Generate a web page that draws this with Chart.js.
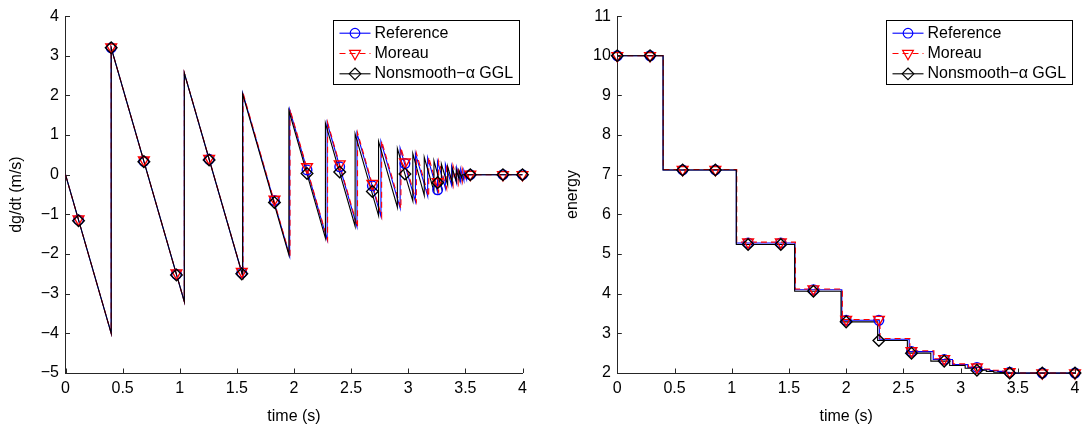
<!DOCTYPE html>
<html>
<head>
<meta charset="utf-8">
<title>Bouncing ball: velocity and energy</title>
<script src="https://cdn.jsdelivr.net/npm/chart.js@4.4.1/dist/chart.umd.min.js"></script>
<style>
  body { margin: 0; background: #fff; }
  #wrap { position: relative; width: 1091px; height: 430px; }
  canvas { position: absolute; top: 0; }
  #velChart { left: 0; }
  #energyChart { left: 545px; }
</style>
</head>
<body>
<div id="wrap">
  <canvas id="velChart" width="545" height="430"></canvas>
  <canvas id="energyChart" width="546" height="430"></canvas>
</div>
<script>
// ====== DATOS ======
const seriesNames = ["Reference", "Moreau", "Nonsmooth\u2212\u03b1 GGL"];

// velocidad: vertices del diente de sierra
const refT = [0, 0.4, 0.4, 1.04, 1.04, 1.552, 1.552, 1.962, 1.962, 2.29, 2.29, 2.551, 2.551, 2.761, 2.761, 2.929, 2.929, 3.063, 3.063, 3.17, 3.17, 3.256, 3.256, 3.325, 3.325, 3.38, 3.38, 3.424, 3.424, 3.459, 3.459, 3.487, 3.487, 3.51, 3.51, 4.0];
const refV = [0, -4, 3.2, -3.2, 2.56, -2.56, 2.05, -2.05, 1.64, -1.64, 1.31, -1.31, 1.05, -1.05, 0.84, -0.84, 0.67, -0.67, 0.54, -0.54, 0.43, -0.43, 0.34, -0.34, 0.27, -0.27, 0.22, -0.22, 0.18, -0.18, 0.14, -0.14, 0.11, -0.11, 0, 0];

const morT = [0, 0.4, 0.4, 1.04, 1.04, 1.554, 1.554, 1.965, 1.965, 2.294, 2.294, 2.556, 2.556, 2.767, 2.767, 2.936, 2.936, 3.071, 3.071, 3.179, 3.179, 3.266, 3.266, 3.336, 3.336, 3.392, 3.392, 3.437, 3.437, 3.473, 3.473, 3.502, 3.502, 3.526, 3.526, 4.0];
const morV = [0, -4, 3.2, -3.2, 2.57, -2.57, 2.06, -2.06, 1.65, -1.65, 1.32, -1.32, 1.06, -1.06, 0.85, -0.85, 0.68, -0.68, 0.55, -0.55, 0.44, -0.44, 0.35, -0.35, 0.28, -0.28, 0.23, -0.23, 0.18, -0.18, 0.15, -0.15, 0.12, -0.12, 0, 0];

const gglT = [0, 0.4, 0.4, 1.04, 1.04, 1.55, 1.55, 1.955, 1.955, 2.275, 2.275, 2.535, 2.535, 2.74, 2.74, 2.905, 2.905, 3.04, 3.04, 3.14, 3.14, 3.225, 3.225, 3.29, 3.29, 3.345, 3.345, 3.385, 3.385, 3.42, 3.42, 3.445, 3.445, 3.47, 3.47, 4.0];
const gglV = [0, -4, 3.2, -3.2, 2.56, -2.54, 2.04, -2.02, 1.62, -1.6, 1.3, -1.3, 1.03, -1.03, 0.84, -0.82, 0.66, -0.66, 0.53, -0.52, 0.44, -0.42, 0.35, -0.33, 0.27, -0.26, 0.21, -0.2, 0.16, -0.16, 0.13, -0.12, 0.1, -0.1, 0, 0];

// marcadores de la velocidad
const velMarkT = [0.114, 0.4, 0.686, 0.971, 1.257, 1.543, 1.829, 2.114, 2.4, 2.686, 2.971, 3.257, 3.543, 3.829, 4.0];
const refMarkV = [-1.14, 3.2, 0.34, -2.51, 0.39, -2.47, -0.65, 0.12, 0.2, -0.28, 0.28, -0.38, 0, 0, 0];
const morMarkV = [-1.12, 3.22, 0.37, -2.48, 0.41, -2.44, -0.62, 0.2, 0.27, -0.22, 0.32, -0.18, 0.01, 0, 0];
const gglMarkV = [-1.16, 3.2, 0.33, -2.53, 0.37, -2.5, -0.7, 0.03, 0.07, -0.42, 0.02, -0.2, 0, 0, 0];

// energia: instante del rebote y nuevo nivel (escalones)
const refET = [0, 0.4, 1.04, 1.552, 1.962, 2.29, 2.551, 2.761, 2.929, 3.063, 3.17, 3.256, 3.325, 3.38, 3.424, 4.0];
const refE  = [10, 7.12, 5.28, 4.1, 3.33, 2.85, 2.54, 2.34, 2.21, 2.14, 2.09, 2.06, 2.04, 2.02, 2.0, 2.0];
const morET = [0, 0.402, 1.044, 1.557, 1.967, 2.296, 2.557, 2.767, 2.935, 3.069, 3.176, 3.262, 3.33, 3.385, 3.43, 4.0];
const morE  = [10, 7.13, 5.3, 4.12, 3.35, 2.87, 2.56, 2.36, 2.23, 2.15, 2.1, 2.07, 2.05, 2.03, 2.0, 2.0];
const gglET = [0, 0.4, 1.04, 1.55, 1.955, 2.275, 2.535, 2.74, 2.905, 3.04, 3.14, 3.225, 3.29, 3.345, 3.385, 4.0];
const gglE  = [10, 7.12, 5.24, 4.06, 3.29, 2.82, 2.5, 2.3, 2.19, 2.12, 2.07, 2.04, 2.02, 2.01, 2.0, 2.0];

// marcadores de la energia
const enMarkT = [0, 0.286, 0.571, 0.857, 1.143, 1.429, 1.714, 2.0, 2.286, 2.571, 2.857, 3.143, 3.429, 3.714, 4.0];
const refMarkE = [10, 10, 7.12, 7.12, 5.28, 5.28, 4.1, 3.33, 3.33, 2.54, 2.34, 2.14, 2.02, 2.0, 2.0];
const morMarkE = [10, 10, 7.13, 7.13, 5.3, 5.3, 4.12, 3.35, 3.35, 2.56, 2.36, 2.15, 2.03, 2.0, 2.0];
const gglMarkE = [10, 10, 7.12, 7.12, 5.24, 5.24, 4.06, 3.29, 2.82, 2.5, 2.3, 2.07, 2.0, 2.0, 2.0];

// ====== ESTILOS ======
const FONT = "'Liberation Sans', Arial, Helvetica, sans-serif";
const AXIS = "#262626";

const estilos = [
  { color: "#0000ff", dash: [], marker: "circle", radius: 4.8, rotation: 0 },
  { color: "#ff0000", dash: [6, 4], marker: "triangle", radius: 6.2, rotation: 180 },
  { color: "#000000", dash: [], marker: "rectRot", radius: 5.8, rotation: 0 },
];

function puntos(xs, ys) {
  return xs.map((x, i) => ({ x: x, y: ys[i] }));
}

function formatoTick(v) {
  const r = Math.round(v * 100) / 100;
  return r < 0 ? "\u2212" + Math.abs(r) : String(r);
}

function crearDatasets(lineas, marcas, markT, stepped) {
  const ds = [];
  lineas.forEach(([xs, ys], i) => {
    const st = estilos[i];
    ds.push({
      data: puntos(xs, ys),
      showLine: true,
      borderColor: st.color,
      borderWidth: 1.1,
      borderDash: st.dash,
      pointRadius: 0,
      stepped: stepped,
      order: 12 - i,
      clip: false,
    });
  });
  marcas.forEach((ys, i) => {
    const st = estilos[i];
    ds.push({
      data: puntos(markT, ys),
      showLine: false,
      pointStyle: st.marker,
      pointRadius: st.radius,
      pointRotation: st.rotation,
      pointBorderColor: st.color,
      pointBackgroundColor: "rgba(0,0,0,0)",
      pointBorderWidth: 1.4,
      order: 3 - i,
      clip: false,
    });
  });
  return ds;
}

function dibujarMarca(ctx, st, x, y) {
  const r = st.radius;
  ctx.beginPath();
  if (st.marker === "circle") {
    ctx.arc(x, y, r, 0, Math.PI * 2);
  } else if (st.marker === "triangle") {
    ctx.moveTo(x - r * 0.866, y - r / 2);
    ctx.lineTo(x + r * 0.866, y - r / 2);
    ctx.lineTo(x, y + r);
    ctx.closePath();
  } else {
    ctx.moveTo(x, y - r);
    ctx.lineTo(x + r, y);
    ctx.lineTo(x, y + r);
    ctx.lineTo(x - r, y);
    ctx.closePath();
  }
  ctx.strokeStyle = st.color;
  ctx.lineWidth = 1.2;
  ctx.stroke();
}

// ticks hacia dentro (estilo matlab)
const marcasInternas = {
  id: "marcasInternas",
  afterDraw(chart) {
    const { ctx, chartArea } = chart;
    const x = chart.scales.x, y = chart.scales.y;
    ctx.save();
    ctx.strokeStyle = AXIS;
    ctx.lineWidth = 1;
    ctx.beginPath();
    x.ticks.forEach((t) => {
      const px = Math.round(x.getPixelForValue(t.value)) + 0.5;
      ctx.moveTo(px, chartArea.bottom);
      ctx.lineTo(px, chartArea.bottom - 4.5);
    });
    y.ticks.forEach((t) => {
      const py = Math.round(y.getPixelForValue(t.value)) + 0.5;
      ctx.moveTo(chartArea.left, py);
      ctx.lineTo(chartArea.left + 4.5, py);
    });
    ctx.stroke();
    ctx.restore();
  },
};

// leyenda con caja
const leyendaCaja = {
  id: "leyendaCaja",
  afterDraw(chart) {
    const { ctx, chartArea } = chart;
    const w = 186, h = 64;
    const x0 = Math.round(chartArea.right - 3.5 - w) + 0.5;
    const y0 = Math.round(chartArea.top + 4.3) + 0.5;
    ctx.save();
    ctx.fillStyle = "#fff";
    ctx.fillRect(x0, y0, w, h);
    ctx.strokeStyle = "#000";
    ctx.lineWidth = 1;
    ctx.strokeRect(x0, y0, w, h);
    const filas = [12.7, 33, 53.3];
    seriesNames.forEach((nombre, i) => {
      const st = estilos[i];
      const yy = y0 + filas[i];
      ctx.strokeStyle = st.color;
      ctx.lineWidth = 1.1;
      ctx.setLineDash(st.dash);
      ctx.beginPath();
      ctx.moveTo(x0 + 6, yy);
      ctx.lineTo(x0 + 37, yy);
      ctx.stroke();
      ctx.setLineDash([]);
      dibujarMarca(ctx, st, x0 + 21.5, yy);
      ctx.fillStyle = "#000";
      ctx.font = "16px " + FONT;
      ctx.textBaseline = "middle";
      ctx.textAlign = "left";
      ctx.fillText(nombre, x0 + 41, yy);
    });
    ctx.restore();
  },
};

function crearGrafico(id, datasets, cfg) {
  const fuente = { family: FONT, size: 16 };
  return new Chart(document.getElementById(id), {
    type: "scatter",
    data: { datasets: datasets },
    options: {
      responsive: false,
      animation: false,
      events: [],
      layout: { padding: { left: 0, right: cfg.padRight, top: 13, bottom: 0 } },
      plugins: { legend: { display: false }, tooltip: { enabled: false } },
      scales: {
        x: {
          type: "linear",
          min: 0,
          max: 4,
          ticks: { stepSize: 0.5, padding: 6.4, color: "#000", font: fuente, callback: formatoTick, maxRotation: 0, autoSkip: false },
          grid: { display: false, drawTicks: false },
          border: { display: true, color: AXIS, width: 1 },
          title: { display: true, text: "time (s)", color: "#000", font: fuente, padding: { top: 0, bottom: 3.5 } },
          afterFit: (s) => { s.height = 57; },
        },
        y: {
          type: "linear",
          min: cfg.yMin,
          max: cfg.yMax,
          ticks: { stepSize: 1, padding: 6.5, color: "#000", font: fuente, callback: formatoTick, autoSkip: false },
          grid: { display: false, drawTicks: false },
          border: { display: true, color: AXIS, width: 1 },
          title: { display: true, text: cfg.yTitle, color: "#000", font: fuente, padding: { top: cfg.titlePad, bottom: 0 } },
          afterFit: (s) => { s.width = cfg.yWidth; },
        },
      },
    },
    plugins: [marcasInternas, leyendaCaja],
  });
}

document.addEventListener("DOMContentLoaded", () => {
  crearGrafico(
    "velChart",
    crearDatasets([[refT, refV], [morT, morV], [gglT, gglV]], [refMarkV, morMarkV, gglMarkV], velMarkT, false),
    { padRight: 22.5, yMin: -5, yMax: 4, yTitle: "dg/dt (m/s)", yWidth: 65.5, titlePad: 7 }
  );
  crearGrafico(
    "energyChart",
    crearDatasets([[refET, refE], [morET, morE], [gglET, gglE]], [refMarkE, morMarkE, gglMarkE], enMarkT, true),
    { padRight: 16, yMin: 2, yMax: 11, yTitle: "energy", yWidth: 72.3, titlePad: 18.4 }
  );
});
</script>
</body>
</html>
